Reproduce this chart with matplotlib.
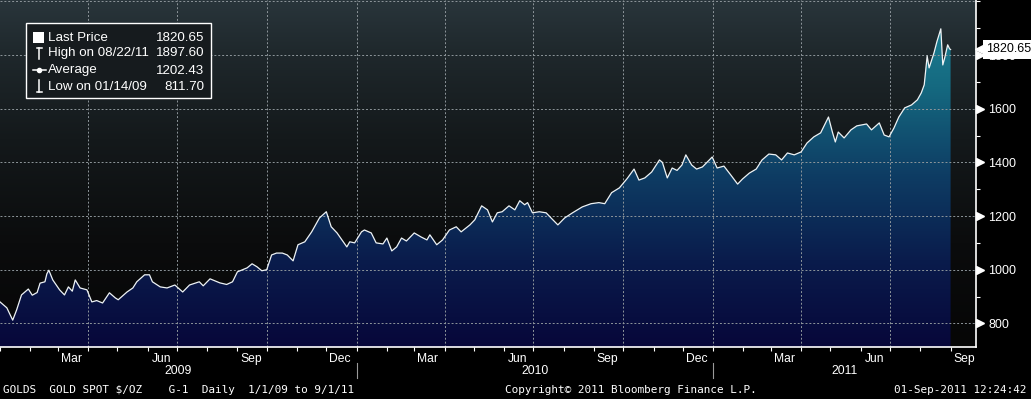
import numpy as np
import pandas as pd
import matplotlib
matplotlib.use("Agg")
import matplotlib.pyplot as plt
import matplotlib.dates as mdates
from matplotlib.colors import LinearSegmentedColormap
from matplotlib.lines import Line2D
from matplotlib.patches import Rectangle
from matplotlib.transforms import blended_transform_factory

# gold spot (roughly weekly)
dates = [
    "2009-01-01", "2009-01-08", "2009-01-14", "2009-01-18", "2009-01-23", "2009-01-30",
    "2009-02-03", "2009-02-08", "2009-02-11", "2009-02-16", "2009-02-18", "2009-02-20",
    "2009-02-24", "2009-03-03", "2009-03-08", "2009-03-12", "2009-03-16", "2009-03-19",
    "2009-03-24", "2009-03-31", "2009-04-05", "2009-04-10", "2009-04-16", "2009-04-23",
    "2009-04-29", "2009-05-02", "2009-05-11", "2009-05-17", "2009-05-21", "2009-05-29",
    "2009-06-03", "2009-06-06", "2009-06-14", "2009-06-21", "2009-06-29", "2009-07-07",
    "2009-07-14", "2009-07-24", "2009-07-28", "2009-08-04", "2009-08-14", "2009-08-21",
    "2009-08-27", "2009-09-01", "2009-09-11", "2009-09-16", "2009-09-21", "2009-09-26",
    "2009-10-01", "2009-10-06", "2009-10-11", "2009-10-17", "2009-10-22", "2009-10-28",
    "2009-11-02", "2009-11-09", "2009-11-16", "2009-11-24", "2009-12-01", "2009-12-06",
    "2009-12-12", "2009-12-17", "2009-12-22", "2009-12-25", "2009-12-30", "2010-01-06",
    "2010-01-09", "2010-01-16", "2010-01-21", "2010-01-28", "2010-02-01", "2010-02-06",
    "2010-02-11", "2010-02-16", "2010-02-21", "2010-03-01", "2010-03-08", "2010-03-14",
    "2010-03-17", "2010-03-24", "2010-03-30", "2010-04-06", "2010-04-13", "2010-04-18",
    "2010-04-27", "2010-05-02", "2010-05-09", "2010-05-15", "2010-05-20", "2010-05-25",
    "2010-05-30", "2010-06-06", "2010-06-12", "2010-06-17", "2010-06-22", "2010-06-25",
    "2010-06-30", "2010-07-07", "2010-07-14", "2010-07-19", "2010-07-26", "2010-08-02",
    "2010-08-10", "2010-08-20", "2010-08-29", "2010-09-06", "2010-09-12", "2010-09-19",
    "2010-09-27", "2010-10-05", "2010-10-12", "2010-10-17", "2010-10-23", "2010-10-30",
    "2010-11-07", "2010-11-10", "2010-11-15", "2010-11-20", "2010-11-25", "2010-11-30",
    "2010-12-04", "2010-12-10", "2010-12-15", "2010-12-21", "2010-12-28", "2010-12-31",
    "2011-01-05", "2011-01-12", "2011-01-19", "2011-01-26", "2011-01-31", "2011-02-07",
    "2011-02-14", "2011-02-20", "2011-02-27", "2011-03-06", "2011-03-12", "2011-03-18",
    "2011-03-25", "2011-04-01", "2011-04-07", "2011-04-14", "2011-04-21", "2011-04-29",
    "2011-05-03", "2011-05-06", "2011-05-09", "2011-05-15", "2011-05-22", "2011-05-28",
    "2011-06-07", "2011-06-12", "2011-06-20", "2011-06-25", "2011-06-30", "2011-07-05",
    "2011-07-10", "2011-07-16", "2011-07-23", "2011-07-29", "2011-08-02", "2011-08-05",
    "2011-08-08", "2011-08-10", "2011-08-15", "2011-08-18", "2011-08-22", "2011-08-24",
    "2011-08-26", "2011-08-29", "2011-08-31", "2011-09-01",
]
prices = [
    880, 858, 812, 850, 906, 928,
    905, 915, 950, 955, 985, 998,
    962, 925, 906, 936, 920, 962,
    932, 925, 880, 885, 876, 914,
    895, 888, 917, 932, 955, 981,
    981, 955, 936, 932, 943, 917,
    943, 955, 940, 966, 951, 945,
    955, 992, 1007, 1022, 1011, 996,
    1000, 1055, 1062, 1062, 1055, 1033,
    1093, 1104, 1141, 1193, 1216, 1160,
    1137, 1111, 1085, 1104, 1100, 1141,
    1148, 1137, 1100, 1096, 1118, 1070,
    1085, 1118, 1107, 1137, 1122, 1111,
    1130, 1093, 1111, 1148, 1160, 1141,
    1167, 1186, 1238, 1223, 1178, 1212,
    1216, 1238, 1223, 1257, 1242, 1250,
    1212, 1216, 1212, 1193, 1167, 1193,
    1212, 1234, 1246, 1250, 1246, 1287,
    1305, 1340, 1375, 1334, 1342, 1364,
    1409, 1400, 1342, 1379, 1370, 1390,
    1428, 1390, 1375, 1383, 1409, 1420,
    1379, 1386, 1353, 1319, 1338, 1360,
    1375, 1409, 1431, 1428, 1409, 1435,
    1428, 1439, 1472, 1495, 1510, 1569,
    1513, 1476, 1513, 1491, 1521, 1536,
    1543, 1521, 1547, 1502, 1495, 1528,
    1569, 1603, 1614, 1633, 1659, 1689,
    1796, 1752, 1808, 1850, 1897.6, 1763,
    1790, 1838, 1823, 1820.65,
]

y_ticks = [800, 1000, 1200, 1400, 1600, 1800]
y_minor = [900, 1100, 1300, 1500, 1700, 1900, 2000]
y_grid = [800, 1000, 1200, 1400, 1600, 1800, 2000]
years = [2009, 2010, 2011]
legend_labels = ["Last Price", "High on 08/22/11", "Average", "Low on 01/14/09"]
legend_values = ["1820.65", "1897.60", "1202.43", "811.70"]
last_price = 1820.65
footer_left = "GOLDS  GOLD SPOT $/OZ    G-1  Daily  1/1/09 to 9/1/11"
footer_mid = "Copyright\u00a9 2011 Bloomberg Finance L.P."
footer_right = "01-Sep-2011 12:24:42"

W, H = 1031, 399
SANS = "Liberation Sans"
MONO = "DejaVu Sans Mono"

def fx(px):
    return px / W

def fy(py):
    return 1 - py / H

fig = plt.figure(figsize=(W / 100, H / 100), dpi=100, facecolor="black")
ax = fig.add_axes([0, fy(347), fx(976), 347 / H])

t = pd.to_datetime(dates)
x = mdates.date2num(t)
x0 = mdates.date2num(pd.Timestamp("2009-01-01"))
x1 = mdates.date2num(pd.Timestamp("2011-09-27"))
y0, y1 = 712, 2005

# background and area gradients
bg_cmap = LinearSegmentedColormap.from_list(
    "bg", [(0, "#060606"), (0.3, "#0b0c0d"), (0.6, "#14191b"), (0.85, "#1f282c"), (1, "#29353b")])
fill_cmap = LinearSegmentedColormap.from_list(
    "fill", [(0, "#07073a"), (0.25, "#0a1c4c"), (0.5, "#0e3d64"), (0.75, "#156980"), (1, "#1e8799")])
grad = np.linspace(0, 1, 256).reshape(-1, 1)

ax.imshow(grad, extent=[x0, x1, y0, y1], origin="lower", aspect="auto",
          cmap=bg_cmap, zorder=0)
area = ax.fill_between(x, prices, y0, color="none", lw=0)
im = ax.imshow(grad, extent=[x0, x1, y0, y1], origin="lower", aspect="auto",
               cmap=fill_cmap, zorder=1)
im.set_clip_path(area.get_paths()[0], transform=ax.transData)
ax.plot(x, prices, color="#eef3f5", lw=0.9, zorder=4)

# grid
for v in y_grid:
    ax.axhline(v, color="#8e969b", lw=0.7, ls=(0, (2, 2)), zorder=3)
for d in pd.date_range("2009-04-01", "2011-09-01", freq="QS-JAN"):
    ax.axvline(mdates.date2num(d), color="#8e969b", lw=0.7, ls=(0, (2, 2)), zorder=3)

ax.set_xlim(x0, x1)
ax.set_ylim(y0, y1)

for s in ["top", "left"]:
    ax.spines[s].set_visible(False)
for s in ["bottom", "right"]:
    ax.spines[s].set_color("white")
    ax.spines[s].set_linewidth(1.2)
    ax.spines[s].set_zorder(6)

# x axis
ax.xaxis.set_major_locator(mdates.MonthLocator(bymonth=(3, 6, 9, 12), bymonthday=15))
ax.xaxis.set_major_formatter(mdates.DateFormatter("%b"))
ax.xaxis.set_minor_locator(mdates.MonthLocator())
ax.tick_params(axis="x", which="major", length=0, pad=4, colors="white", labelsize=8.7)
ax.tick_params(axis="x", which="minor", length=3, width=0.8, color="white", direction="out")
for lbl in ax.get_xticklabels():
    lbl.set_fontfamily(SANS)

# y axis on the right
ax.yaxis.tick_right()
ax.set_yticks(y_ticks)
ax.set_yticks(y_minor, minor=True)
ax.tick_params(axis="y", which="major", length=0, pad=9, colors="white", labelsize=9)
ax.tick_params(axis="y", which="minor", length=3, width=0.8, color="white", direction="out")
for lbl in ax.get_yticklabels():
    lbl.set_fontfamily(SANS)
tri = blended_transform_factory(ax.transAxes, ax.transData)
ax.plot([1 + 3.5 / 976] * len(y_ticks), y_ticks, ls="none", marker=">", ms=6,
        color="white", transform=tri, clip_on=False, zorder=7)

# last price tag (sits over the 1800 label, as on the terminal)
ax.plot([1 + 5 / 976], [last_price], ls="none", marker="<", ms=8, color="white",
        transform=tri, clip_on=False, zorder=8)
ax.annotate(f"{last_price:.2f}", xy=(1, last_price), xycoords=("axes fraction", "data"),
            xytext=(7.5, 0), textcoords="offset points", ha="left", va="center",
            fontsize=9, family=SANS, color="black", zorder=9, annotation_clip=False,
            bbox=dict(boxstyle="square,pad=0.3", fc="white", ec="none"))

# year labels and separators
yt = blended_transform_factory(ax.transData, fig.transFigure)
for yr in years:
    a = mdates.date2num(pd.Timestamp(f"{yr}-01-01"))
    b = min(mdates.date2num(pd.Timestamp(f"{yr + 1}-01-01")), x1)
    fig.text((a + b) / 2, fy(371), str(yr), transform=yt, ha="center", va="center",
             color="white", fontsize=8.7, family=SANS)
    if yr > years[0]:
        fig.add_artist(Line2D([a, a], [fy(363), fy(378)], transform=yt,
                              color="#9a9a9a", lw=0.8))

# legend box
fig.add_artist(Rectangle((fx(26), fy(98)), fx(211) - fx(26), fy(23) - fy(98),
                         transform=fig.transFigure, fc="#161b1e", ec="white", lw=1, zorder=10))
rows_y = [38, 53, 70.5, 87]
for lab, val, ry in zip(legend_labels, legend_values, rows_y):
    fig.text(fx(47.5), fy(ry), lab, ha="left", va="center", color="white",
             fontsize=9.6, family=SANS, zorder=11)
    fig.text(fx(204), fy(ry), val, ha="right", va="center", color="white",
             fontsize=9.6, family=SANS, zorder=11)
sym = dict(transform=fig.transFigure, color="white", lw=1.1, zorder=11)
fig.add_artist(Rectangle((fx(32.5), fy(43)), fx(11.5), 11 / H, transform=fig.transFigure,
                         fc="white", ec="none", zorder=11))
fig.add_artist(Line2D([fx(36.5), fx(42)], [fy(47.5), fy(47.5)], **sym))
fig.add_artist(Line2D([fx(39.3), fx(39.3)], [fy(47.5), fy(59)], **sym))
fig.add_artist(Line2D([fx(33), fx(45.5)], [fy(70), fy(70)], **sym))
fig.add_artist(Line2D([fx(39.3)], [fy(70)], marker="o", ms=3, ls="none",
                      transform=fig.transFigure, color="white", zorder=11))
fig.add_artist(Line2D([fx(39.3), fx(39.3)], [fy(80), fy(91.5)], **sym))
fig.add_artist(Line2D([fx(36.5), fx(42)], [fy(91.5), fy(91.5)], **sym))

# footer
fig.text(fx(3), fy(390), footer_left, ha="left", va="center", color="white",
         fontsize=7.9, family=MONO)
fig.text(fx(505), fy(390), footer_mid, ha="left", va="center", color="white",
         fontsize=7.9, family=MONO)
fig.text(fx(1027), fy(390), footer_right, ha="right", va="center", color="white",
         fontsize=7.9, family=MONO)

fig.savefig("out.png", dpi=100, facecolor="black")
